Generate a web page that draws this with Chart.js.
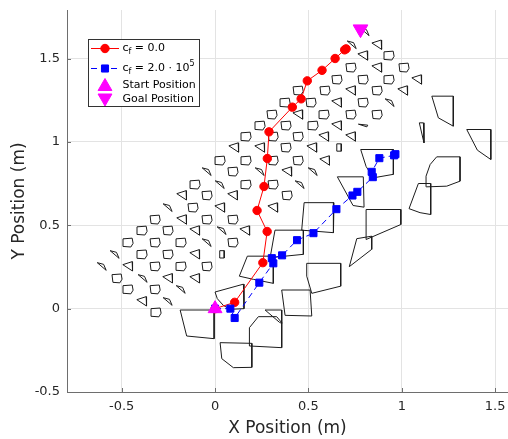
<!DOCTYPE html>
<html><head><meta charset="utf-8">
<script src="https://cdn.jsdelivr.net/npm/chart.js@4/dist/chart.umd.min.js"></script>
<style>html,body{margin:0;padding:0;background:#fff}</style>
</head><body>
<canvas id="c" width="508" height="439"></canvas>
<script>
// ---------- data ----------
const xTicks = [-0.5, 0, 0.5, 1, 1.5];
const yTicks = [-0.5, 0, 0.5, 1, 1.5];
const xRange = [-0.793, 1.569];
const yRange = [-0.5, 1.792];

const redX = [0, 0.105, 0.256, 0.279, 0.225, 0.262, 0.280, 0.289, 0.414, 0.461, 0.494, 0.573, 0.643, 0.694, 0.702];
const redY = [0, 0.038, 0.276, 0.463, 0.589, 0.733, 0.901, 1.061, 1.209, 1.259, 1.367, 1.430, 1.501, 1.553, 1.559];

const blueX = [0, 0.082, 0.105, 0.237, 0.312, 0.304, 0.359, 0.439, 0.527, 0.650, 0.736, 0.762, 0.845, 0.839, 0.880, 0.959, 0.966];
const blueY = [0, 0.000, -0.056, 0.156, 0.272, 0.303, 0.320, 0.411, 0.453, 0.597, 0.679, 0.701, 0.789, 0.821, 0.903, 0.920, 0.927];

const startPos = [0, 0];
const goalPos = [0.779, 1.677];

const largeObstacles = [
  [[-0.187,-0.008],[-0.005,-0.008],[-0.005,-0.180],[-0.152,-0.164]],
  [[0,0.100],[0.152,0.147],[0.155,0.0],[0.080,-0.004],[0.044,0.020],[0.012,0.060]],
  [[0.027,-0.204],[0.197,-0.208],[0.197,-0.352],[0.098,-0.354],[0.036,-0.300]],
  [[0.184,-0.114],[0.232,-0.048],[0.330,-0.048],[0.357,-0.084],[0.357,-0.234],[0.187,-0.224]],
  [[0.268,-0.008],[0.357,-0.008],[0.357,-0.088],[0.345,-0.082]],
  [[0.357,0.112],[0.509,0.112],[0.518,-0.044],[0.375,-0.040]],
  [[0.491,0.272],[0.673,0.272],[0.673,0.135],[0.518,0.092],[0.491,0.195]],
  [[0.477,0.636],[0.637,0.636],[0.634,0.456],[0.464,0.471]],
  [[0.321,0.471],[0.473,0.471],[0.473,0.326],[0.295,0.306]],
  [[0.130,0.195],[0.173,0.315],[0.312,0.315],[0.312,0.152],[0.205,0.176]],
  [[0.655,0.791],[0.794,0.791],[0.798,0.609],[0.739,0.619]],
  [[0.780,0.955],[0.955,0.955],[0.955,0.806],[0.848,0.785],[0.809,0.853]],
  [[0.809,0.595],[0.995,0.595],[0.995,0.505],[0.809,0.415]],
  [[0.759,0.420],[0.839,0.435],[0.839,0.356],[0.719,0.252]],
  [[1.161,1.275],[1.276,1.275],[1.276,1.095],[1.196,1.145]],
  [[1.094,1.115],[1.116,1.115],[1.119,0.995]],
  [[1.348,1.075],[1.477,1.075],[1.477,0.895],[1.405,0.951]],
  [[1.152,0.865],[1.187,0.911],[1.312,0.911],[1.312,0.765],[1.241,0.735],[1.134,0.731],[1.130,0.795]],
  [[1.089,0.751],[1.155,0.751],[1.155,0.565],[1.098,0.576],[1.039,0.600]]
];

const shapeTemplates = {
  q: [[-0.027,0.022],[0.022,0.026],[0.027,-0.005],[0.015,-0.027],[-0.022,-0.024]],
  t: [[-0.028,0.010],[0.022,0.028],[0.024,-0.028]],
  d: [[-0.026,0.022],[0.008,0.012],[0.022,-0.024]],
  f: [[-0.025,0.008],[0.025,0.002],[0.020,-0.008]],
  s: [[-0.012,0.022],[0.012,0.022],[0.012,-0.022],[-0.012,-0.022]]
};

const smallX = [
  0.803,
  0.734, 0.868,
  0.793, 0.932,
  0.728, 0.868, 1.012,
  0.653, 0.793, 0.932, 1.082,
  0.445, 0.589, 0.728, 0.868, 1.007,
  0.375, 0.514, 0.653, 0.793, 0.937,
  0.305, 0.445, 0.584, 0.728, 0.868,
  0.241, 0.380, 0.525, 0.653, 0.793,
  0.166, 0.311, 0.445, 0.584, 0.728,
  0.102, 0.241, 0.380, 0.520, 0.664,
  0.027, 0.166, 0.311, 0.445, 0.589,
  -0.043, 0.096, 0.241, 0.386, 0.525,
  -0.107, 0.027, 0.166, 0.311, 0.455,
  -0.177, -0.043, 0.096, 0.386,
  -0.252, -0.118, 0.027, 0.311,
  -0.321, -0.177, -0.043, 0.096,
  -0.391, -0.252, -0.107, 0.037, 0.161,
  -0.466, -0.321, -0.182, -0.043, 0.096,
  -0.536, -0.391, -0.252, -0.107, 0.037,
  -0.605, -0.466, -0.321, -0.182, -0.043,
  -0.525, -0.386, -0.252, -0.107,
  -0.466, -0.321, -0.182,
  -0.391, -0.252,
  -0.316
];
const smallY = [
  1.662,
  1.584, 1.584,
  1.519, 1.519,
  1.447, 1.447, 1.447,
  1.375, 1.375, 1.375, 1.375,
  1.309, 1.309, 1.309, 1.309, 1.309,
  1.237, 1.237, 1.237, 1.237, 1.237,
  1.165, 1.165, 1.165, 1.165, 1.165,
  1.099, 1.099, 1.099, 1.099, 1.099,
  1.033, 1.033, 1.033, 1.033, 1.033,
  0.967, 0.967, 0.967, 0.967, 0.967,
  0.889, 0.889, 0.889, 0.889, 0.889,
  0.823, 0.823, 0.823, 0.823, 0.823,
  0.745, 0.745, 0.745, 0.745, 0.745,
  0.680, 0.680, 0.680, 0.680,
  0.607, 0.607, 0.607, 0.607,
  0.535, 0.535, 0.535, 0.535,
  0.469, 0.469, 0.469, 0.469, 0.469,
  0.397, 0.397, 0.397, 0.397, 0.397,
  0.326, 0.326, 0.326, 0.326, 0.326,
  0.254, 0.254, 0.254, 0.254, 0.254,
  0.182, 0.182, 0.182, 0.182,
  0.116, 0.116, 0.116,
  0.044, 0.044,
  -0.022
];
const smallShape = [
  'd',
  'd','t',
  't','q',
  'q','t','q',
  'q','q','q','t',
  'q','q','t','q','t',
  'q','q','t','q','d',
  'q','t','q','q','q',
  'q','q','q','t','f',
  'q','q','q','t','t',
  't','t','q','t','s',
  'q','q','q','q','t',
  'd','q','d','t','d',
  'q','d','q','q','d',
  't','q','t','q',
  'd','q','t','t',
  'q','t','q','q',
  'q','q','t','d','t',
  'q','q','q','d','q',
  'd','q','q','t','s',
  'd','t','q','q','q',
  'q','d','t','t',
  'q','q','d',
  't','d',
  'q'
];

// ---------- build datasets ----------
function closed(poly){ return poly.concat([poly[0]]).map(p => ({x:p[0], y:p[1]})); }
const obstacleDatasets = [];
const obstacleStyle = {showLine:true, borderColor:'#1c1c1c', borderWidth:1, pointRadius:0, pointHoverRadius:0, fill:false, order:10, tension:0};
largeObstacles.forEach(poly => obstacleDatasets.push(Object.assign({data: closed(poly)}, obstacleStyle)));
smallX.forEach((cx, i) => {
  const tpl = shapeTemplates[smallShape[i]];
  const poly = tpl.map(o => [cx + o[0], smallY[i] + o[1]]);
  obstacleDatasets.push(Object.assign({data: closed(poly)}, obstacleStyle));
});

const pathRed = {
  label:'c_f = 0.0', data: redX.map((x,i)=>({x, y:redY[i]})), showLine:true,
  borderColor:'#ff0000', backgroundColor:'#ff0000', borderWidth:1,
  pointStyle:'circle', pointRadius:4.2, pointBorderWidth:1, pointBorderColor:'#ff0000', order:2
};
const pathBlue = {
  label:'c_f = 2.0e5', data: blueX.map((x,i)=>({x, y:blueY[i]})), showLine:true,
  borderColor:'#0000ff', backgroundColor:'#0000ff', borderWidth:1, borderDash:[6,4],
  pointStyle:'rect', pointRadius:5, pointBorderWidth:1, pointBorderColor:'#0000ff', order:1
};
const startDs = {
  label:'Start Position', data:[{x:startPos[0], y:startPos[1]}], showLine:false,
  pointStyle:'triangle', pointRadius:8, backgroundColor:'#ff00ff', borderColor:'#ff00ff', pointBorderWidth:1, order:0
};
const goalDs = {
  label:'Goal Position', data:[{x:goalPos[0], y:goalPos[1]}], showLine:false,
  pointStyle:'triangle', rotation:180, pointRotation:180, pointRadius:8.5, backgroundColor:'#ff00ff', borderColor:'#ff00ff', pointBorderWidth:1, order:0
};

// ---------- plugins ----------
const innerTicks = {
  id:'innerTicks',
  afterDatasetsDraw(chart){
    const ctx = chart.ctx, xs = chart.scales.x, ys = chart.scales.y, a = chart.chartArea;
    ctx.save(); ctx.strokeStyle = '#6e6e6e'; ctx.lineWidth = 1;
    xTicks.forEach(v => { const px = Math.round(xs.getPixelForValue(v)) + 0.5;
      ctx.beginPath(); ctx.moveTo(px, a.bottom); ctx.lineTo(px, a.bottom - 4); ctx.stroke(); });
    yTicks.forEach(v => { const py = Math.round(ys.getPixelForValue(v)) + 0.5;
      ctx.beginPath(); ctx.moveTo(a.left, py); ctx.lineTo(a.left + 4, py); ctx.stroke(); });
    ctx.restore();
  }
};

function drawMarker(ctx, style, x, y, r, color, rot){
  ctx.save(); ctx.fillStyle = color; ctx.strokeStyle = color; ctx.lineWidth = 1;
  ctx.beginPath();
  if (style === 'circle') { ctx.arc(x, y, r, 0, Math.PI*2); }
  else if (style === 'rect') { const s = r*Math.SQRT1_2; ctx.rect(x-s, y-s, 2*s, 2*s); }
  else if (style === 'triangle') {
    let ang = rot ? Math.PI : 0;
    ctx.moveTo(x + Math.sin(ang)*r, y - Math.cos(ang)*r);
    ang += 2*Math.PI/3; ctx.lineTo(x + Math.sin(ang)*r, y - Math.cos(ang)*r);
    ang += 2*Math.PI/3; ctx.lineTo(x + Math.sin(ang)*r, y - Math.cos(ang)*r);
    ctx.closePath();
  }
  ctx.fill(); ctx.stroke(); ctx.restore();
}

const customLegend = {
  id:'customLegend',
  afterDraw(chart){
    const ctx = chart.ctx;
    ctx.save();
    ctx.fillStyle = '#ffffff'; ctx.fillRect(88.5, 39.5, 111, 67);
    ctx.strokeStyle = '#333333'; ctx.lineWidth = 1; ctx.strokeRect(88.5, 39.5, 111, 67);
    const rows = [48.5, 68.5, 85, 99.5];
    const lx0 = 91, lx1 = 119, mx = 105, tx = 122.5;
    ctx.strokeStyle = '#ff0000'; ctx.beginPath(); ctx.moveTo(lx0, rows[0]); ctx.lineTo(lx1, rows[0]); ctx.stroke();
    drawMarker(ctx, 'circle', mx, rows[0], 4.2, '#ff0000');
    ctx.strokeStyle = '#0000ff'; ctx.setLineDash([6,4]); ctx.beginPath(); ctx.moveTo(lx0, rows[1]); ctx.lineTo(lx1, rows[1]); ctx.stroke(); ctx.setLineDash([]);
    drawMarker(ctx, 'rect', mx, rows[1], 5, '#0000ff');
    drawMarker(ctx, 'triangle', mx, rows[2]+1.5, 8, '#ff00ff', false);
    drawMarker(ctx, 'triangle', mx, rows[3]-1.5, 8, '#ff00ff', true);
    ctx.fillStyle = '#000000'; ctx.textBaseline = 'middle'; ctx.textAlign = 'left';
    const big = '11px "DejaVu Sans"', small = '8px "DejaVu Sans"';
    function seq(parts, y){
      let x = tx;
      parts.forEach(p => { ctx.font = p[1] === 0 ? big : small; ctx.fillText(p[0], x, y + p[1]); x += ctx.measureText(p[0]).width; });
    }
    seq([['c',0],['f',3],[' = 0.0',0]], rows[0]);
    seq([['c',0],['f',3],[' = 2.0 \u00B7 10',0],['5',-5]], rows[1]);
    seq([['Start Position',0]], rows[2]);
    seq([['Goal Position',0]], rows[3]);
    ctx.restore();
  }
};

function zeroPad(s){ s.paddingLeft = 0; s.paddingRight = 0; s.paddingTop = 0; s.paddingBottom = 0; }

// ---------- chart ----------
const tickFont = {family:'DejaVu Sans', size:13};
new Chart(document.getElementById('c'), {
  type:'scatter',
  data:{ datasets:[startDs, goalDs, pathBlue, pathRed].concat(obstacleDatasets) },
  options:{
    responsive:false, animation:false, devicePixelRatio:1,
    layout:{autoPadding:false, padding:{top:10, right:0, left:0, bottom:0}},
    plugins:{ legend:{display:false}, tooltip:{enabled:false} },
    events:[],
    scales:{
      x:{ type:'linear', min:xRange[0], max:xRange[1],
        afterBuildTicks: s => { s.ticks = xTicks.map(v => ({value:v})); },
        afterFit: s => { s.height = 47; zeroPad(s); },
        ticks:{ font:tickFont, color:'#262626', padding:7, callback: v => String(v) },
        grid:{ color:'#e3e3e3', drawTicks:false, lineWidth:1 },
        border:{ color:'#6e6e6e', width:1 },
        title:{ display:true, text:'X Position (m)', font:{family:'DejaVu Sans', size:17}, color:'#262626', padding:{top:0,bottom:0} }
      },
      y:{ type:'linear', min:yRange[0], max:yRange[1],
        afterBuildTicks: s => { s.ticks = yTicks.map(v => ({value:v})); },
        afterFit: s => { s.width = 67; zeroPad(s); },
        ticks:{ font:tickFont, color:'#262626', padding:7, callback: v => String(v) },
        grid:{ color:'#e3e3e3', drawTicks:false, lineWidth:1 },
        border:{ color:'#6e6e6e', width:1 },
        title:{ display:true, text:'Y Position (m)', font:{family:'DejaVu Sans', size:17}, color:'#262626', padding:{top:9,bottom:0} }
      }
    }
  },
  plugins:[innerTicks, customLegend]
});
</script>
</body></html>
